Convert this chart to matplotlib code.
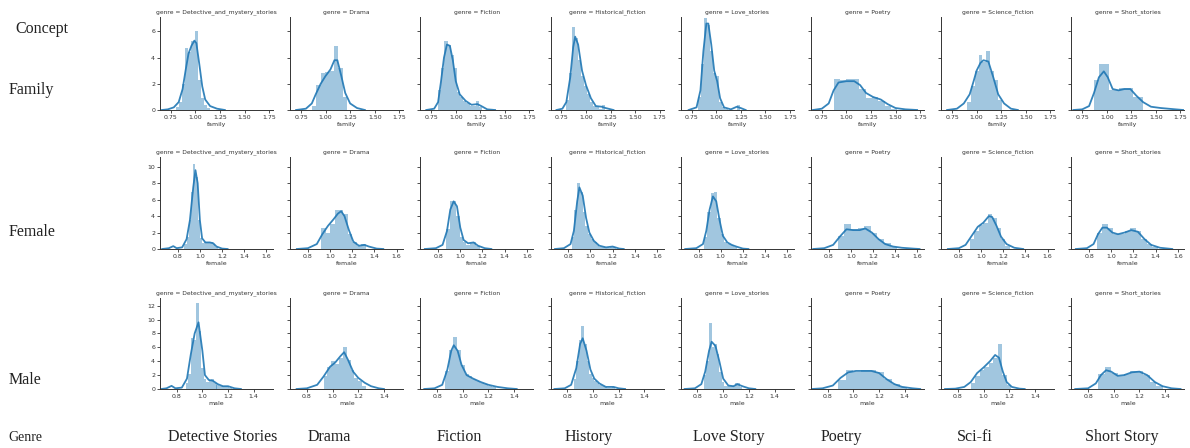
import numpy as np
import matplotlib
matplotlib.use("Agg")
import matplotlib.pyplot as plt

BLUE = "#1f77b4"

genres = ["Detective_and_mystery_stories", "Drama", "Fiction", "Historical_fiction",
          "Love_stories", "Poetry", "Science_fiction", "Short_stories"]
genre_names = ["Detective Stories", "Drama", "Fiction", "History",
               "Love Story", "Poetry", "Sci-fi", "Short Story"]
concepts = ["family", "female", "male"]
concept_names = ["Family", "Female", "Male"]

# histogram: first bin edge, bin width, bar heights (one entry per genre)
family_start = [0.80, 0.86, 0.82, 0.80, 0.82, 0.87, 0.90, 0.87]
family_width = [0.032, 0.045, 0.032, 0.03, 0.03, 0.065, 0.04, 0.05]
family_hist = [
    [0.2, 0.6, 2.0, 4.7, 4.4, 5.3, 6.0, 2.3, 0.9, 0.4, 0.15],
    [0.3, 1.9, 2.8, 2.9, 3.0, 4.9, 3.2, 1.0],
    [1.5, 3.2, 5.3, 5.0, 4.2, 3.2, 1.4, 1.0, 0.7, 0.5, 0.3, 0.3, 0.7, 0.2],
    [0.8, 2.8, 6.3, 5.5, 3.8, 2.6, 1.8, 1.2, 0.6, 0.3, 0.2, 0.1, 0.4],
    [1.0, 3.5, 7.0, 6.5, 4.5, 2.8, 2.6, 0.6, 0.2, 0.05, 0.0, 0.0, 0.0, 0.35],
    [2.4, 2.3, 2.4, 2.4, 1.6, 0.9, 1.0, 0.7, 0.3, 0.1],
    [0.6, 1.8, 3.0, 4.2, 3.7, 4.5, 3.0, 2.3, 0.8],
    [2.3, 3.5, 3.5, 1.5, 1.5, 1.7, 1.7, 1.7, 1.0, 1.0],
]
family_kde_x = [
    [0.66, 0.72, 0.78, 0.83, 0.87, 0.90, 0.93, 0.96, 0.99, 1.01, 1.04, 1.07, 1.10, 1.15, 1.22, 1.30],
    [0.70, 0.80, 0.86, 0.90, 0.95, 1.00, 1.05, 1.09, 1.12, 1.16, 1.20, 1.25, 1.32, 1.40],
    [0.70, 0.78, 0.82, 0.85, 0.88, 0.91, 0.94, 0.97, 1.00, 1.04, 1.10, 1.16, 1.22, 1.26, 1.32, 1.40],
    [0.70, 0.76, 0.80, 0.84, 0.87, 0.89, 0.92, 0.96, 1.00, 1.05, 1.10, 1.16, 1.20, 1.28],
    [0.72, 0.80, 0.84, 0.87, 0.90, 0.92, 0.95, 0.98, 1.01, 1.04, 1.08, 1.15, 1.21, 1.25, 1.30],
    [0.66, 0.75, 0.82, 0.87, 0.92, 1.00, 1.08, 1.14, 1.20, 1.27, 1.35, 1.42, 1.50, 1.60, 1.72],
    [0.70, 0.80, 0.87, 0.93, 0.97, 1.00, 1.04, 1.07, 1.12, 1.17, 1.22, 1.28, 1.35, 1.42],
    [0.66, 0.75, 0.82, 0.87, 0.92, 0.97, 1.01, 1.06, 1.12, 1.18, 1.24, 1.30, 1.37, 1.45, 1.55, 1.70, 1.78],
]
family_kde_y = [
    [0.0, 0.05, 0.2, 0.6, 1.6, 3.0, 4.3, 4.9, 5.3, 5.1, 3.5, 1.8, 0.8, 0.3, 0.1, 0.0],
    [0.0, 0.1, 0.5, 1.2, 2.0, 2.6, 3.1, 3.8, 3.8, 2.6, 1.3, 0.5, 0.15, 0.0],
    [0.0, 0.1, 0.6, 2.2, 4.0, 5.0, 4.9, 3.8, 2.2, 1.2, 0.7, 0.4, 0.45, 0.3, 0.05, 0.0],
    [0.0, 0.1, 0.6, 2.5, 4.8, 5.6, 5.0, 3.0, 1.9, 0.9, 0.3, 0.25, 0.15, 0.0],
    [0.0, 0.2, 1.5, 4.5, 6.6, 6.6, 5.0, 3.0, 2.2, 0.9, 0.2, 0.05, 0.25, 0.15, 0.0],
    [0.0, 0.1, 0.5, 1.5, 2.1, 2.2, 2.2, 1.9, 1.3, 1.0, 0.8, 0.45, 0.15, 0.05, 0.0],
    [0.0, 0.1, 0.5, 1.2, 2.2, 3.0, 3.6, 3.8, 3.7, 2.5, 1.2, 0.5, 0.1, 0.0],
    [0.0, 0.05, 0.3, 1.3, 2.5, 2.95, 2.5, 1.6, 1.5, 1.6, 1.6, 1.1, 0.6, 0.25, 0.15, 0.05, 0.0],
]

female_start = [0.86, 0.92, 0.875, 0.83, 0.85, 0.88, 0.90, 0.87]
female_width = [0.02, 0.04, 0.03, 0.025, 0.03, 0.06, 0.04, 0.05]
female_hist = [
    [0.6, 1.5, 3.5, 7.0, 10.4, 8.8, 3.5, 1.3, 0.7, 0.8, 0.8, 0.8, 0.8, 0.6, 0.2],
    [2.6, 2.0, 3.0, 4.7, 4.7, 4.2, 1.8, 0.9, 0.4, 0.6],
    [2.4, 5.8, 5.9, 4.0, 1.5, 0.8, 0.5, 0.7, 0.9, 0.4],
    [1.5, 4.8, 8.0, 7.0, 4.5, 2.8, 1.8, 1.2, 0.8, 0.5, 0.3, 0.2, 0.1, 0.1, 0.2, 0.3],
    [1.4, 4.5, 6.8, 7.0, 3.8, 1.8, 0.9, 0.6, 0.5, 0.2],
    [1.6, 3.0, 2.4, 2.6, 2.8, 2.0, 1.2, 0.7, 0.3],
    [1.2, 2.2, 2.9, 3.2, 4.2, 3.8, 2.6, 1.2, 0.4],
    [2.0, 3.0, 2.5, 1.8, 1.8, 2.2, 2.5, 2.2, 1.2, 0.6, 0.2],
]
female_kde_x = [
    [0.66, 0.72, 0.76, 0.79, 0.84, 0.88, 0.91, 0.94, 0.96, 0.98, 1.00, 1.02, 1.05, 1.09, 1.12, 1.15, 1.20, 1.25],
    [0.70, 0.80, 0.88, 0.93, 0.98, 1.03, 1.07, 1.10, 1.13, 1.17, 1.21, 1.26, 1.31, 1.35, 1.42, 1.48],
    [0.68, 0.78, 0.84, 0.88, 0.91, 0.94, 0.97, 1.00, 1.03, 1.07, 1.12, 1.16, 1.22, 1.28],
    [0.68, 0.76, 0.82, 0.85, 0.88, 0.90, 0.93, 0.96, 0.99, 1.03, 1.08, 1.14, 1.20, 1.26, 1.30],
    [0.68, 0.78, 0.84, 0.87, 0.90, 0.93, 0.96, 0.99, 1.02, 1.06, 1.10, 1.14, 1.20, 1.25],
    [0.66, 0.76, 0.84, 0.90, 0.96, 1.02, 1.08, 1.13, 1.19, 1.25, 1.31, 1.38, 1.46, 1.56, 1.62],
    [0.70, 0.80, 0.86, 0.92, 0.97, 1.02, 1.07, 1.10, 1.14, 1.18, 1.23, 1.30, 1.38],
    [0.68, 0.78, 0.84, 0.88, 0.92, 0.96, 1.01, 1.06, 1.12, 1.18, 1.24, 1.30, 1.36, 1.44, 1.55],
]
female_kde_y = [
    [0.0, 0.1, 0.35, 0.1, 0.2, 1.2, 3.5, 7.5, 9.6, 8.0, 3.5, 1.3, 0.8, 0.8, 0.7, 0.3, 0.05, 0.0],
    [0.0, 0.1, 0.6, 1.8, 2.8, 3.6, 4.3, 4.6, 4.0, 2.3, 0.9, 0.4, 0.5, 0.3, 0.05, 0.0],
    [0.0, 0.1, 0.5, 2.2, 4.8, 5.8, 5.2, 2.6, 1.1, 0.7, 0.8, 0.4, 0.1, 0.0],
    [0.0, 0.1, 0.6, 2.2, 5.8, 7.5, 6.5, 3.8, 2.0, 1.0, 0.4, 0.2, 0.3, 0.05, 0.0],
    [0.0, 0.1, 0.6, 2.2, 4.8, 6.4, 5.8, 3.5, 1.6, 0.8, 0.5, 0.3, 0.05, 0.0],
    [0.0, 0.1, 0.5, 1.5, 2.4, 2.3, 2.3, 2.5, 2.0, 1.2, 0.6, 0.3, 0.15, 0.05, 0.0],
    [0.0, 0.1, 0.5, 1.7, 2.7, 3.2, 4.0, 3.9, 2.8, 1.5, 0.6, 0.15, 0.0],
    [0.0, 0.1, 0.6, 1.8, 2.6, 2.6, 2.0, 1.8, 2.0, 2.3, 2.1, 1.2, 0.5, 0.15, 0.0],
]

male_start = [0.87, 0.93, 0.865, 0.85, 0.85, 0.88, 0.90, 0.88]
male_width = [0.02, 0.03, 0.03, 0.02, 0.02, 0.06, 0.035, 0.05]
male_hist = [
    [0.8, 2.2, 7.4, 7.0, 12.4, 8.4, 3.0, 1.5, 1.0, 1.3, 1.4, 0.8, 0.6, 0.5, 0.4, 0.4, 0.5, 0.2],
    [1.8, 3.2, 4.0, 3.6, 4.5, 6.1, 4.2, 2.8, 1.6, 1.1, 0.5],
    [2.6, 5.6, 7.5, 5.6, 3.5, 2.1, 1.8, 1.4, 1.1, 0.9, 0.7, 0.5, 0.3],
    [1.4, 4.0, 7.0, 9.0, 6.5, 4.0, 2.2, 1.6, 1.1, 0.8, 0.6, 0.4, 0.3, 0.2, 0.2, 0.3],
    [2.0, 4.0, 9.5, 6.0, 6.5, 5.0, 2.5, 1.0, 0.5, 0.4, 0.4, 0.5, 0.8, 0.8, 0.3],
    [1.3, 2.7, 2.5, 2.7, 2.8, 2.4, 1.4, 0.7, 0.3],
    [0.8, 1.8, 2.8, 3.2, 3.8, 4.5, 6.5, 2.0, 0.6],
    [2.2, 3.2, 2.3, 1.8, 2.2, 2.6, 2.6, 2.0, 1.0, 0.4],
]
male_kde_x = [
    [0.68, 0.72, 0.76, 0.79, 0.84, 0.88, 0.91, 0.94, 0.97, 1.00, 1.02, 1.05, 1.08, 1.12, 1.16, 1.20, 1.25, 1.30],
    [0.72, 0.80, 0.88, 0.93, 0.98, 1.02, 1.06, 1.09, 1.12, 1.16, 1.20, 1.25, 1.30, 1.36, 1.40],
    [0.70, 0.78, 0.84, 0.88, 0.91, 0.93, 0.96, 0.99, 1.03, 1.08, 1.14, 1.20, 1.27, 1.35, 1.42],
    [0.70, 0.78, 0.83, 0.87, 0.90, 0.92, 0.95, 0.98, 1.01, 1.05, 1.10, 1.16, 1.20, 1.25],
    [0.70, 0.78, 0.83, 0.86, 0.89, 0.91, 0.94, 0.97, 1.00, 1.04, 1.08, 1.11, 1.15, 1.20, 1.25],
    [0.68, 0.76, 0.84, 0.90, 0.96, 1.02, 1.08, 1.14, 1.20, 1.26, 1.32, 1.38, 1.46, 1.52],
    [0.70, 0.78, 0.85, 0.90, 0.95, 1.00, 1.05, 1.09, 1.12, 1.15, 1.18, 1.22, 1.28, 1.32],
    [0.70, 0.80, 0.86, 0.90, 0.94, 0.98, 1.03, 1.08, 1.14, 1.20, 1.26, 1.32, 1.38, 1.45, 1.52],
]
male_kde_y = [
    [0.0, 0.1, 0.45, 0.1, 0.2, 1.5, 5.0, 8.0, 9.6, 5.5, 2.0, 1.3, 1.2, 0.7, 0.4, 0.4, 0.1, 0.0],
    [0.0, 0.1, 0.6, 1.8, 3.2, 3.8, 4.7, 5.3, 4.2, 2.5, 1.6, 0.9, 0.4, 0.1, 0.0],
    [0.0, 0.1, 0.6, 2.8, 5.5, 6.3, 5.5, 3.5, 2.0, 1.5, 1.0, 0.6, 0.3, 0.1, 0.0],
    [0.0, 0.1, 0.6, 3.0, 6.5, 7.3, 5.5, 2.8, 1.5, 0.8, 0.3, 0.3, 0.1, 0.0],
    [0.0, 0.1, 0.7, 2.5, 5.5, 6.8, 6.2, 4.0, 1.5, 0.5, 0.4, 0.7, 0.4, 0.1, 0.0],
    [0.0, 0.1, 0.5, 1.6, 2.4, 2.6, 2.6, 2.6, 2.3, 1.4, 0.7, 0.3, 0.1, 0.0],
    [0.0, 0.05, 0.3, 1.0, 2.3, 3.1, 4.0, 4.9, 4.5, 2.5, 1.0, 0.3, 0.05, 0.0],
    [0.0, 0.1, 0.8, 2.0, 2.7, 2.5, 1.9, 2.0, 2.4, 2.5, 2.0, 1.0, 0.4, 0.1, 0.0],
]

rows = [
    (family_start, family_width, family_hist, family_kde_x, family_kde_y),
    (female_start, female_width, female_hist, female_kde_x, female_kde_y),
    (male_start, male_width, male_hist, male_kde_x, male_kde_y),
]
row_xlim = [(0.64, 1.79), (0.64, 1.66), (0.67, 1.55)]
row_ylim = [(0, 7.1), (0, 11.2), (0, 13.1)]
row_xticks = [[0.75, 1.00, 1.25, 1.50, 1.75], [0.8, 1.0, 1.2, 1.4, 1.6], [0.8, 1.0, 1.2, 1.4]]
row_yticks = [[0, 2, 4, 6], [0, 2, 4, 6, 8, 10], [0, 2, 4, 6, 8, 10, 12]]

W, H = 1190, 448
fig = plt.figure(figsize=(W / 100, H / 100), dpi=100)

row_px = [(17, 110), (157, 249), (298, 389)]
for r, (starts, widths, hists, kxs, kys) in enumerate(rows):
    top, bot = row_px[r]
    for c in range(8):
        left = 160 + 130.2 * c
        ax = fig.add_axes([left / W, 1 - bot / H, 113 / W, (bot - top) / H])
        h = hists[c]
        edges = starts[c] + widths[c] * np.arange(len(h))
        ax.bar(edges, h, width=widths[c], align="edge", color=BLUE, alpha=0.42, linewidth=0)
        ax.plot(kxs[c], kys[c], color=BLUE, lw=1.3, alpha=0.9)
        ax.set_xlim(*row_xlim[r])
        ax.set_ylim(*row_ylim[r])
        ax.set_xticks(row_xticks[r])
        if r == 0:
            ax.set_xticklabels(["%.2f" % t for t in row_xticks[r]])
        ax.set_yticks(row_yticks[r])
        if c > 0:
            ax.set_yticklabels([])
        for s in ["top", "right"]:
            ax.spines[s].set_visible(False)
        for s in ["left", "bottom"]:
            ax.spines[s].set_linewidth(0.7)
            ax.spines[s].set_color("#333333")
        ax.tick_params(labelsize=4.5, length=2, width=0.6, pad=1.5, colors="#333333")
        ax.set_xlabel(concepts[r], fontsize=4.5, labelpad=1.5, color="#333333")
        ax.set_title("genre = " + genres[c], fontsize=4.3, pad=2.5, color="#333333")

serif = "Liberation Serif"
fig.text(15 / W, 1 - 29 / H, "Concept", fontsize=11.5, family=serif, va="center", color="#222222")
label_y = [90, 232, 380]
for name, y in zip(concept_names, label_y):
    fig.text(9 / W, 1 - y / H, name, fontsize=11.5, family=serif, va="center", color="#222222")
fig.text(8 / W, 1 - 437 / H, "Genre", fontsize=10, family=serif, va="center", color="#222222")
genre_x = [168, 308, 437, 565, 693, 821, 957, 1085]
for name, x in zip(genre_names, genre_x):
    fig.text(x / W, 1 - 437 / H, name, fontsize=11.5, family=serif, va="center", color="#222222")

fig.savefig("out.png", dpi=100)
